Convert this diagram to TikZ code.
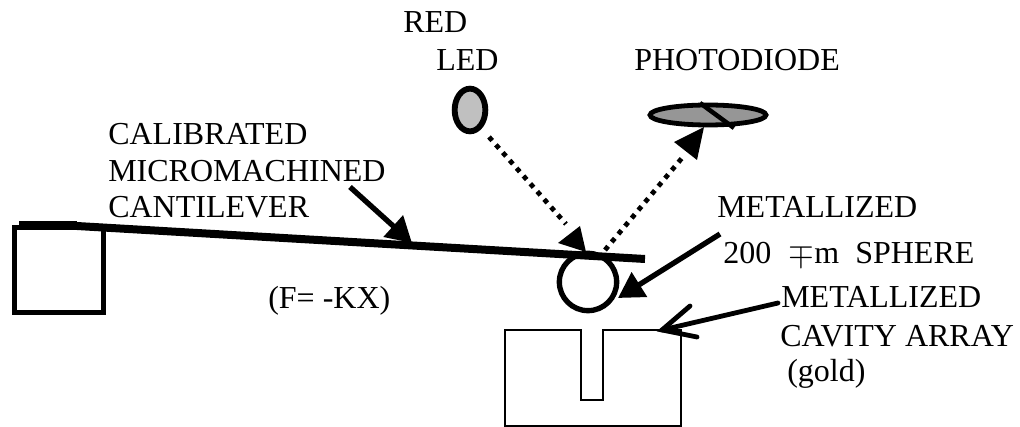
\documentclass[tikz,border=0pt]{standalone}
\usepackage{fontspec}
\setmainfont{Liberation Serif}
\usetikzlibrary{arrows.meta,shapes.geometric}
\definecolor{LedGray}{RGB}{192,192,192}
\definecolor{DiodeGray}{RGB}{150,150,150}
\tikzset{
  lbl/.style={anchor=base west,inner sep=0pt,font=\fontsize{24pt}{26pt}\selectfont},
  beam/.style={line width=3.6pt,dash pattern=on 3.6pt off 4.2pt},
  bigtip/.style={-{Triangle[length=19pt,width=21pt]}},
}

\begin{document}
\begin{tikzpicture}[x=0.75pt,y=-0.75pt]
      \useasboundingbox (0,0) rectangle (1020,427);
      % labels
      \node[lbl] (red) at (403,33) {RED};
      \node[lbl] (led) at (436,71) {LED};
      \node[lbl] (photo) at (634,71) {PHOTODIODE};
      \node[lbl] (cal) at (108,145) {CALIBRATED};
      \node[lbl] (micro) at (108,182) {MICROMACHINED};
      \node[lbl] (canti) at (108,218) {CANTILEVER};
      \node[lbl] (metal) at (717,218) {METALLIZED};
      \node[lbl] (sphere) at (723,264) {200\hspace{13pt}$\mp$m\hspace{12pt}SPHERE};
      \node[lbl] (force) at (268,309) {(F= -KX)};
      \node[lbl] (metalb) at (781,308) {METALLIZED};
      \node[lbl] (cavity) at (780,346) {CAVITY ARRAY};
      \node[lbl] (gold) at (787,381) {(gold)};
      % support and beam
      \draw[line width=4pt] (14.7,227.5) rectangle (103.3,312.5);
      \fill (19,221) rectangle (77,230);
      \draw[line width=6pt] (70,225.6) -- (645,259);
      % sphere
      \node[circle,draw,line width=4pt,minimum size=43pt,inner sep=0pt] (ball) at (588,282) {};
      % LED and photodiode
      \node[ellipse,draw,line width=4.4pt,fill=LedGray,minimum width=23pt,minimum height=32pt,inner sep=0pt] (ledbody) at (470,110) {};
      \node[ellipse,draw,line width=3.6pt,fill=DiodeGray,minimum width=87pt,minimum height=15pt,inner sep=0pt] (diode) at (708,115) {};
      \coordinate (slita) at (700,103);
      \coordinate (slitb) at (734,128);
      \draw[line width=3.4pt] (slita) -- (slitb);
      % light path
      \coordinate (hit) at (586,252);
      \coordinate (leave) at (605,250);
      \coordinate (diodein) at (704,127);
      \draw[beam] (489,137) -- (566,224);
      \fill (hit) -- (558,243) -- (580,226) -- cycle;
      \draw[beam] (leave) -- (682,158);
      \fill (diodein) -- (674,142) -- (697,160) -- cycle;
      % pointers
      \coordinate (ptrcal) at (350,187);
      \coordinate (ptrcaltip) at (412,243);
      \coordinate (ptrsph) at (720,234);
      \coordinate (ptrsphtip) at (618,298);
      \coordinate (ptrcav) at (778,303);
      \coordinate (ptrcavtip) at (662,330);
      \coordinate (barba) at (690,306);
      \coordinate (barbb) at (697,337);
      \draw[line width=4pt,bigtip] (ptrcal) -- (ptrcaltip);
      \draw[line width=4pt,bigtip] (ptrsph) -- (ptrsphtip);
      \draw[line width=3.6pt,line cap=round] (ptrcav) -- (ptrcavtip);
      \draw[line width=3.6pt,line cap=round] (barba) -- (ptrcavtip) -- (barbb);
      % cavity array
      \draw[line width=1.2pt] (581,330) -- (505,330) -- (505,426) -- (681,426) -- (681,330) -- (603,330)
        -- (603,400) -- (581,400) -- cycle;
    \end{tikzpicture}
\end{document}
